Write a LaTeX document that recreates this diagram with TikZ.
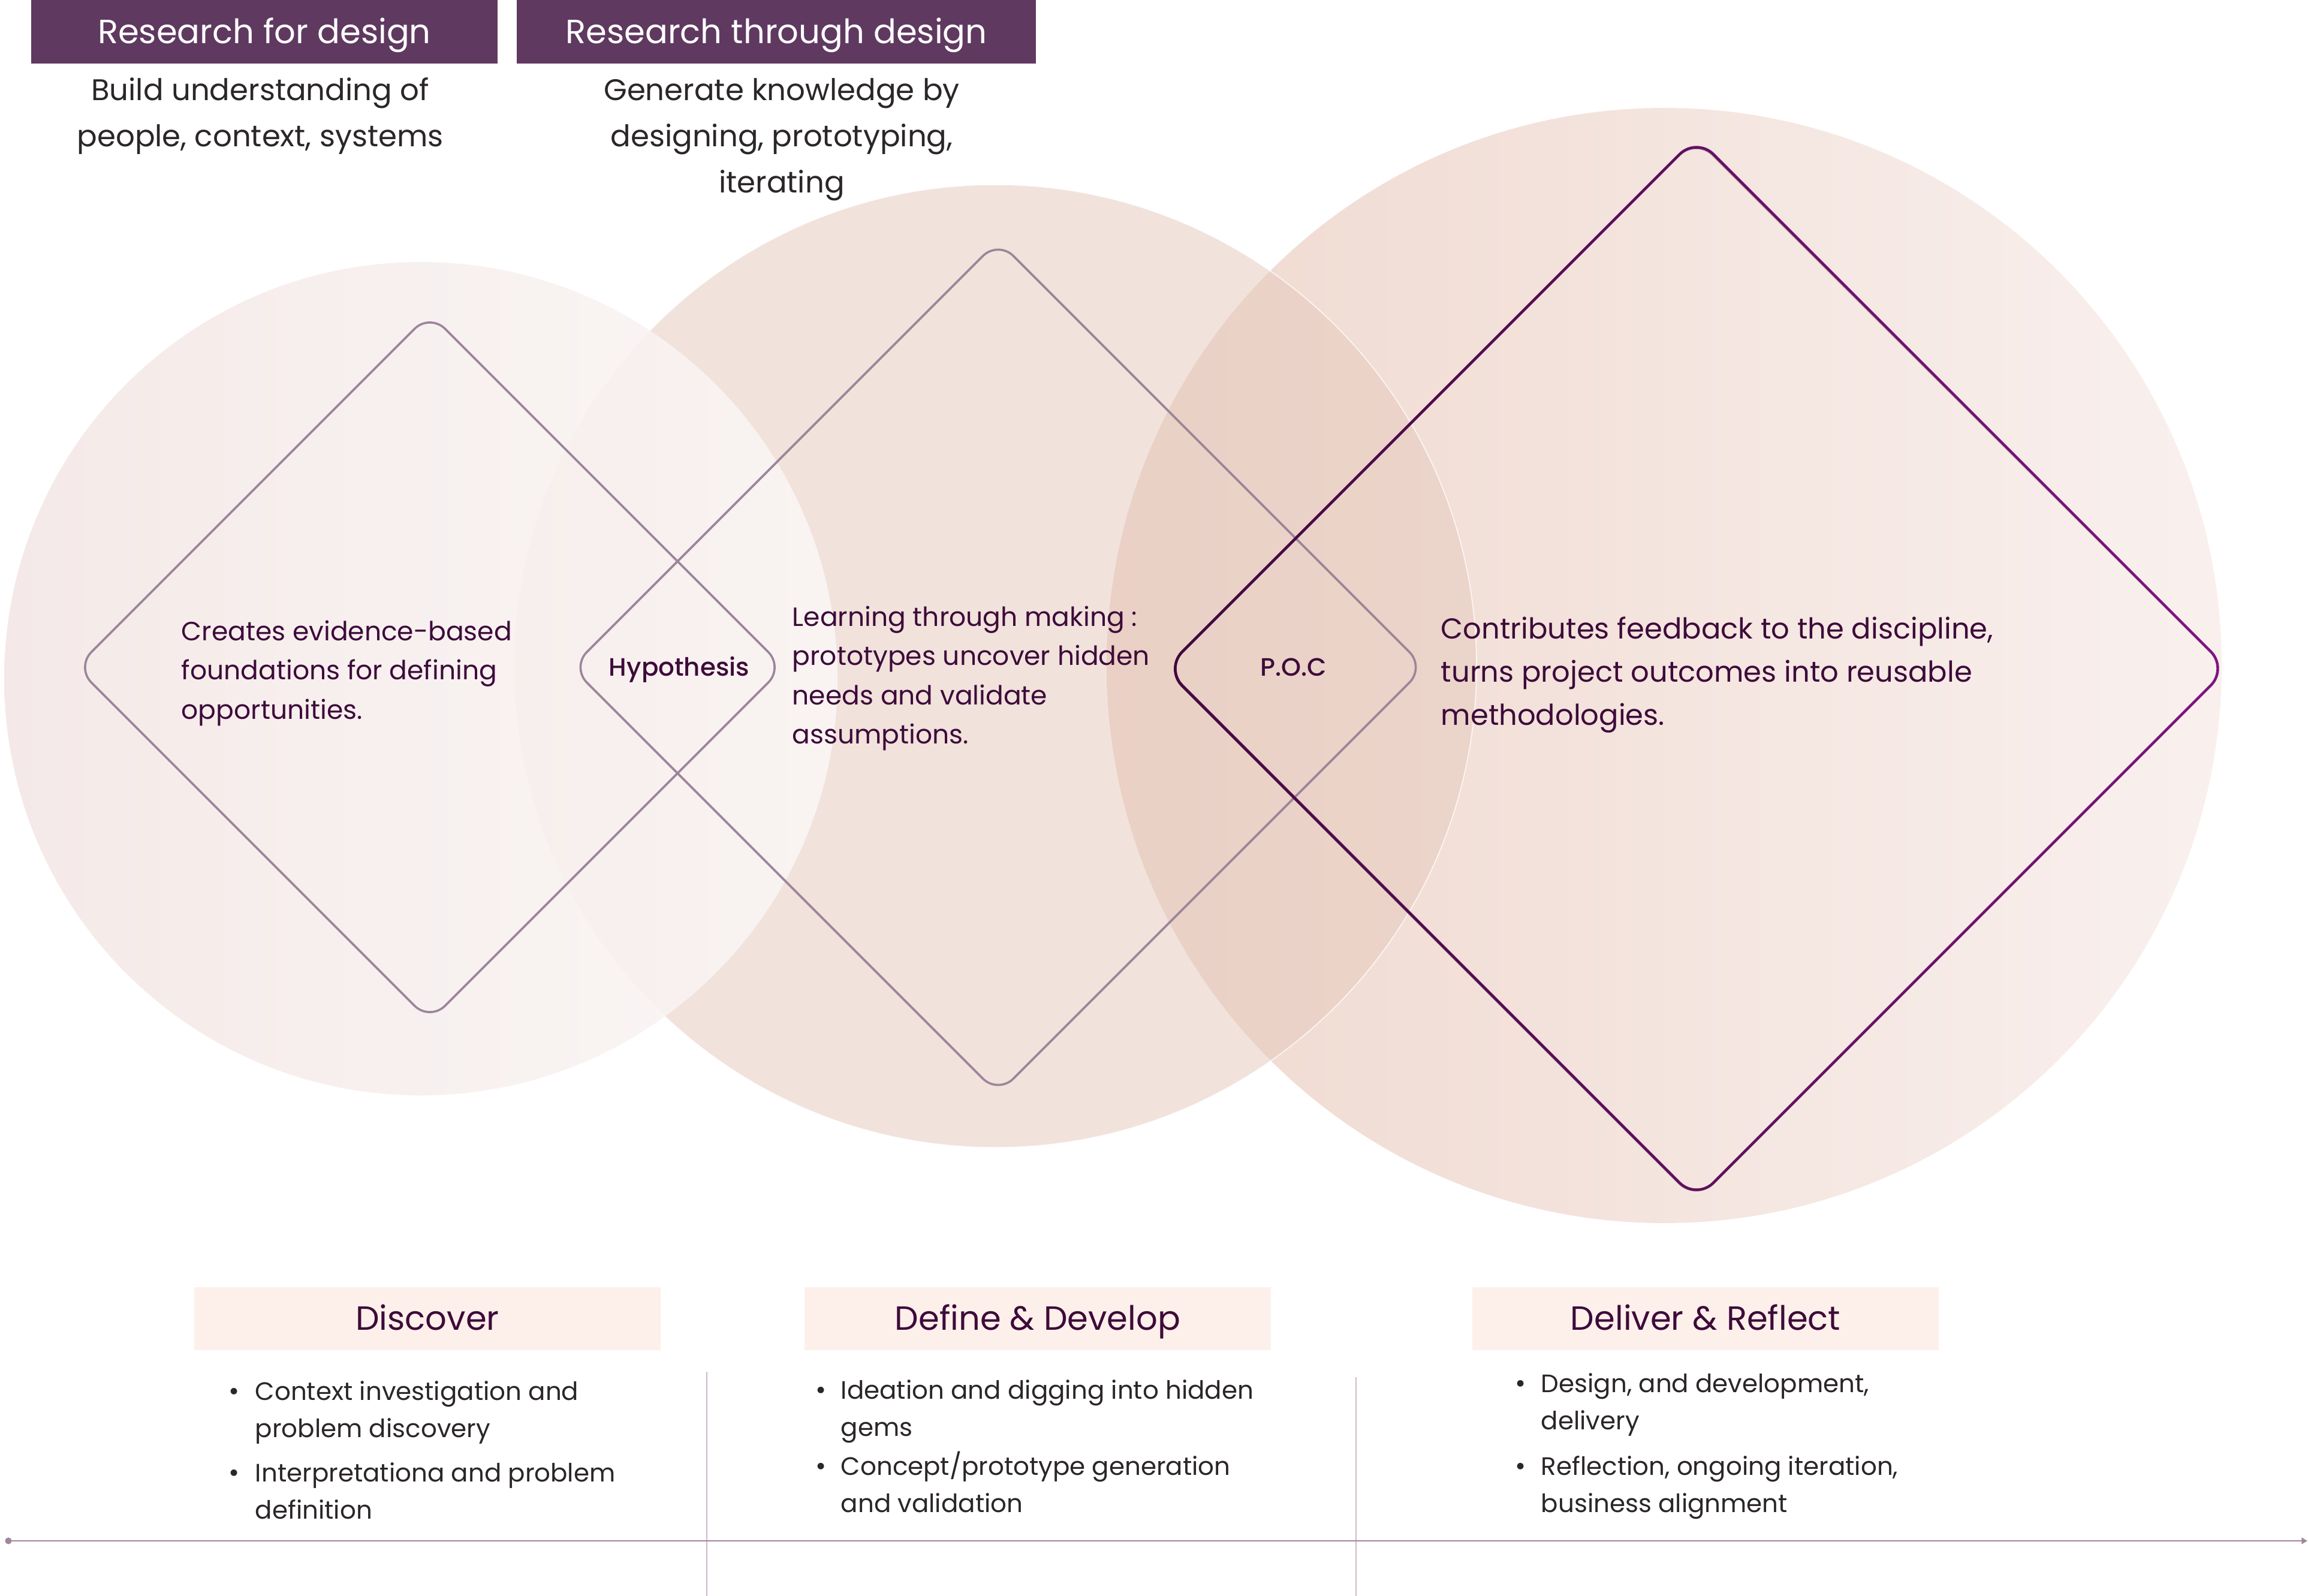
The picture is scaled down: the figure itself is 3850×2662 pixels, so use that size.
\documentclass[tikz,border=0pt]{standalone}
\usepackage{fontspec}
\setmainfont{Poppins}
\IfFontExistsTF{Poppins Medium}{\newfontfamily\pmed{Poppins Medium}}{\newfontfamily\pmed{Poppins}[FakeBold=0.8]}
\usetikzlibrary{shapes.geometric,calc,arrows.meta,fadings}
\definecolor{hdr}{HTML}{5F3960}
\definecolor{ink}{HTML}{3D0B3A}
\definecolor{txtgray}{HTML}{2B2629}
\definecolor{peach}{HTML}{FDF0EA}
\definecolor{dline}{HTML}{9C859A}
\definecolor{dthreer}{HTML}{7E1680}
\definecolor{dthreel}{HTML}{3E0B3B}
\definecolor{sepc}{HTML}{CDBAC8}
\definecolor{tcol}{HTML}{A0869E}
\definecolor{c1l}{HTML}{F3E7E5}
\definecolor{c1r}{HTML}{FBF7F6}
\definecolor{c2f}{HTML}{E6C9BD}
\definecolor{c3l}{HTML}{EFD9CF}
\definecolor{c3r}{HTML}{F9F0EE}
\tikzfading[name=fadeRight, left color=transparent!0, right color=transparent!100]
\newcommand\mlines[2][l]{\begin{tabular}[t]{@{}#1@{}}#2\end{tabular}}
\begin{document}
\begin{tikzpicture}[x=0.25pt,y=-0.25pt,
  circ/.style={circle,inner sep=0pt,outer sep=0pt},
  dia/.style={diamond,aspect=1,inner sep=0pt,outer sep=0pt},
  thin dia/.style={dia,draw=dline,line width=0.9pt,rounded corners=9pt},
  hbox/.style={fill=hdr,text=white,inner sep=0pt,minimum height=26.5pt,
    font=\fontsize{14}{16}\selectfont,text height=9.8pt,text depth=0pt},
  sub/.style={inner sep=0pt,text=txtgray,font=\fontsize{12.45}{19.25}\selectfont},
  body/.style={inner sep=0pt,text=ink,font=\fontsize{11}{16.4}\selectfont},
  bigbody/.style={inner sep=0pt,text=ink,font=\fontsize{12}{18.1}\selectfont},
  mid/.style={inner sep=0pt,text=ink,font=\pmed\fontsize{10.5}{12}\selectfont,text height=7.3pt,text depth=0pt},
  pbox/.style={fill=peach,text=ink,inner sep=0pt,minimum width=194.5pt,minimum height=26.25pt,
    font=\fontsize{14}{17}\selectfont,text height=9.9pt,text depth=0pt},
  item/.style={inner sep=0pt,text=txtgray,anchor=base west,font=\fontsize{10.5}{15.7}\selectfont},
  bul/.style={inner sep=0pt,text=txtgray,anchor=base,font=\fontsize{11}{15.7}\selectfont},
  sepline/.style={draw=sepc,line width=0.5pt},
  tline/.style={draw=tcol,line width=0.65pt}]
\path[use as bounding box,fill=white] (0,0) rectangle (3850,2662);

% circles
\node[circ,minimum size=465pt,left color=c3l,right color=c3r] (c3) at (2776,1110) {};
\node[circ,minimum size=401.5pt,fill=c2f,fill opacity=0.52,draw=white,draw opacity=0.8,line width=0.4pt] (c2) at (1660,1111) {};
\node[circ,minimum size=347.5pt,left color=c1l,right color=c1r,fill opacity=0.88] (c1) at (702,1132) {};

% diamonds
\node[thin dia,minimum size=295pt] (d1) at (717,1113) {};
\node[thin dia,minimum size=355.75pt] (d2) at (1665,1113) {};
\node[dia,minimum size=443pt,draw=dthreer,line width=1.1pt,rounded corners=10pt] (d3) at (2830,1115) {};
\path[draw=dthreel,line width=1.1pt,rounded corners=10pt,path fading=fadeRight]
  (d3.north) -- (d3.west) -- (d3.south) -- (d3.east) -- cycle;

% header
\node[hbox,minimum width=194.5pt] (h1) at (441,53) {Research for design};
\node[hbox,minimum width=216.5pt] (h2) at (1295,53) {Research through design};
\node[sub,anchor=base] (s1) at (434,168) {\mlines[c]{Build understanding of\\people, context, systems}};
\node[sub,anchor=base] (s2) at (1304,168) {\mlines[c]{Generate knowledge by\\designing, prototyping,\\iterating}};

% texts in diamonds
\node[body,anchor=base west] (t1) at (302,1068) {\mlines{Creates evidence-based\\foundations for defining\\opportunities.}};
\node[mid] (hyp) at (1133,1113) {Hypothesis};
\node[body,anchor=base west] (t2) at (1321,1044) {\mlines{Learning through making :\\prototypes uncover hidden\\needs and validate\\assumptions.}};
\node[mid] (poc) at (2158,1113) {P.O.C};
\node[bigbody,anchor=base west] (t3) at (2403,1065) {\mlines{Contributes feedback to the discipline,\\turns project outcomes into reusable\\methodologies.}};

% phases
\node[pbox] (p1) at (713,2199) {Discover};
\node[pbox] (p2) at (1731,2199) {Define \& Develop};
\node[pbox] (p3) at (2845,2199) {Deliver \& Reflect};

\node[bul] (b11) at (391,2335) {•};
\node[item] (i11) at (425,2335) {\mlines{Context investigation and\\problem discovery}};
\node[bul] (b12) at (391,2471) {•};
\node[item] (i12) at (425,2471) {\mlines{Interpretationa and problem\\definition}};

\node[bul] (b21) at (1370,2333) {•};
\node[item] (i21) at (1402,2333) {\mlines{Ideation and digging into hidden\\gems}};
\node[bul] (b22) at (1370,2460) {•};
\node[item] (i22) at (1402,2460) {\mlines{Concept/prototype generation\\and validation}};

\node[bul] (b31) at (2537,2322) {•};
\node[item] (i31) at (2570,2322) {\mlines{Design, and development,\\delivery}};
\node[bul] (b32) at (2537,2460) {•};
\node[item] (i32) at (2570,2460) {\mlines{Reflection, ongoing iteration,\\business alignment}};

% separators and timeline
\coordinate (v1t) at (1179,2288);
\coordinate (v1b) at (1179,2662);
\coordinate (v2t) at (2262,2297);
\coordinate (v2b) at (2262,2662);
\draw[sepline] (v1t) -- (v1b);
\draw[sepline] (v2t) -- (v2b);
\node[circle,fill=tcol,inner sep=0pt,minimum size=2.8pt] (tdot) at (14,2570) {};
\coordinate (tend) at (3849,2570);
\draw[tline,-{Triangle[length=2.4pt,width=2.6pt]}] (tdot.center) -- (tend);
\end{tikzpicture}
\end{document}
